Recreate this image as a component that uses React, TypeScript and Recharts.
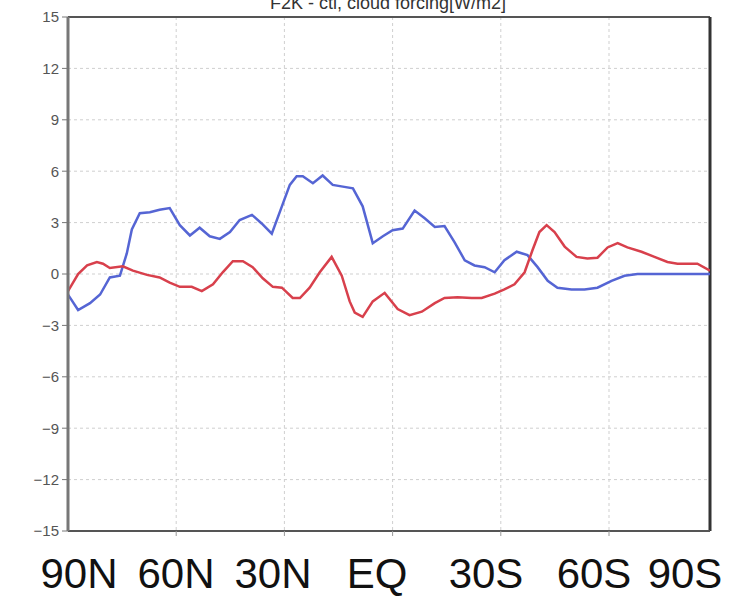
import { CartesianGrid, Line, LineChart, ReferenceLine, XAxis, YAxis } from 'recharts';

// latitude (deg, N positive) and cloud forcing difference [W/m2]
const blueLat = [
  90, 87.2, 83.9, 81.1, 78.4, 75.6, 73.7, 72.3, 70.1, 67.3, 64.6, 61.8, 59.0, 56.2, 53.5, 50.7,
  47.9, 45.1, 42.4, 39.0, 36.3, 33.5, 30.7, 28.5, 26.6, 24.9, 22.1, 19.4, 16.6, 13.8, 11.0, 8.3,
  5.5, 2.7, 0.0, -2.8, -6.1, -8.9, -11.7, -14.4, -17.2, -20.0, -22.7, -25.5, -28.3, -31.0, -34.4,
  -37.4, -40.2, -43.0, -45.7, -49.6, -53.2, -56.8, -60.7, -64.3, -67.9, -88,
];
const blueVal = [
  -1.2, -2.1, -1.7, -1.2, -0.2, -0.1, 1.2, 2.6, 3.55, 3.6, 3.75, 3.85, 2.85, 2.25, 2.7, 2.2,
  2.05, 2.45, 3.15, 3.45, 2.95, 2.35, 3.95, 5.2, 5.7, 5.7, 5.3, 5.75, 5.2, 5.1, 5.0, 3.95,
  1.8, 2.2, 2.55, 2.65, 3.7, 3.25, 2.75, 2.8, 1.85, 0.8, 0.5, 0.4, 0.1, 0.8, 1.3,
  1.1, 0.4, -0.4, -0.8, -0.9, -0.9, -0.8, -0.4, -0.1, 0, 0,
];

const redLat = [
  90, 87.2, 84.7, 82.0, 80.3, 78.4, 74.8, 72.0, 68.1, 64.6, 61.8, 59.0, 55.7, 52.9, 49.8, 47.1,
  44.3, 41.5, 38.8, 36.0, 33.2, 30.7, 27.7, 25.7, 23.0, 20.2, 16.9, 14.1, 11.9, 10.5, 8.3, 5.5,
  2.2, -1.4, -4.7, -8.1, -11.7, -14.4, -18.0, -21.9, -24.7, -28.3, -31.0, -33.8, -36.6, -38.8,
  -40.7, -42.7, -44.9, -47.7, -51.0, -54.0, -56.8, -59.6, -62.4, -65.1, -69.0, -72.6, -76.2,
  -79.0, -81.7, -84.5, -88,
];
const redVal = [
  -1.0, 0, 0.5, 0.7, 0.6, 0.35, 0.45, 0.2, -0.05, -0.2, -0.5, -0.75, -0.75, -1.0, -0.6, 0.1,
  0.75, 0.75, 0.4, -0.25, -0.75, -0.8, -1.4, -1.4, -0.8, 0.1, 1.0, -0.1, -1.6, -2.25, -2.5, -1.6,
  -1.1, -2.05, -2.4, -2.2, -1.7, -1.4, -1.35, -1.4, -1.4, -1.15, -0.9, -0.6, 0.1, 1.4,
  2.45, 2.85, 2.45, 1.6, 1.0, 0.9, 0.95, 1.55, 1.8, 1.55, 1.3, 1.0, 0.7,
  0.6, 0.6, 0.6, 0.2,
];

const yTicks = [-15, -12, -9, -6, -3, 0, 3, 6, 9, 12, 15];
const xTicks = [60, 30, 0, -30, -60];
const latLabels = ['90N', '60N', '30N', 'EQ', '30S', '60S', '90S'];
const latLabelX = [79, 176, 273, 377, 486, 594, 685];

const blueData = blueLat.map((lat, i) => ({ lat, v: blueVal[i] }));
const redData = redLat.map((lat, i) => ({ lat, v: redVal[i] }));

const fmt = (v: number) => (v < 0 ? `\u2212${Math.abs(v)}` : `${v}`);

// x tick labels are cut off in the original, so only the tick marks remain
const EmptyTick = () => <g />;

export default function App() {
  return (
    <div style={{ position: 'absolute', left: 0, top: 0, width: 733, height: 599, background: '#fff' }}>
      <LineChart
        width={733}
        height={550}
        margin={{ top: 17, right: 23, bottom: 5, left: 8 }}
        style={{ fontFamily: '"Liberation Sans", Arial, sans-serif' }}
      >
        <CartesianGrid stroke="#cfcfcf" strokeDasharray="3 3" />
        <XAxis
          type="number"
          dataKey="lat"
          domain={[-88, 90]}
          reversed
          ticks={xTicks}
          tick={<EmptyTick />}
          height={14}
          axisLine={{ stroke: '#555', strokeWidth: 2 }}
          tickLine={{ stroke: '#999' }}
          tickSize={5}
          allowDataOverflow
        />
        <YAxis
          type="number"
          domain={[-15, 15]}
          ticks={yTicks}
          width={60}
          tickFormatter={fmt}
          tickSize={6}
          tickMargin={3}
          tick={{ fill: '#555', fontSize: 15 }}
          axisLine={{ stroke: '#777', strokeWidth: 3 }}
          tickLine={{ stroke: '#777' }}
          allowDataOverflow
        />
        <ReferenceLine y={15} stroke="#555" strokeWidth={2} />
        <ReferenceLine x={-88} stroke="#333" strokeWidth={3} />
        <Line
          data={blueData}
          dataKey="v"
          stroke="#5565d4"
          strokeWidth={2.5}
          dot={false}
          isAnimationActive={false}
        />
        <Line
          data={redData}
          dataKey="v"
          stroke="#d8404c"
          strokeWidth={2.5}
          dot={false}
          isAnimationActive={false}
        />
      </LineChart>
      <svg
        width={733}
        height={599}
        style={{ position: 'absolute', left: 0, top: 0, pointerEvents: 'none' }}
      >
        <text
          x={388}
          y={9}
          textAnchor="middle"
          fontSize={18}
          fill="#333"
          fontFamily='"Liberation Sans", Arial, sans-serif'
        >
          F2K - ctl, cloud forcing[W/m2]
        </text>
        {latLabels.map((label, i) => (
          <text
            key={label}
            x={latLabelX[i]}
            y={588}
            textAnchor="middle"
            fontSize={42}
            fill="#111"
            fontFamily='"Liberation Sans", Arial, sans-serif'
          >
            {label}
          </text>
        ))}
      </svg>
    </div>
  );
}
